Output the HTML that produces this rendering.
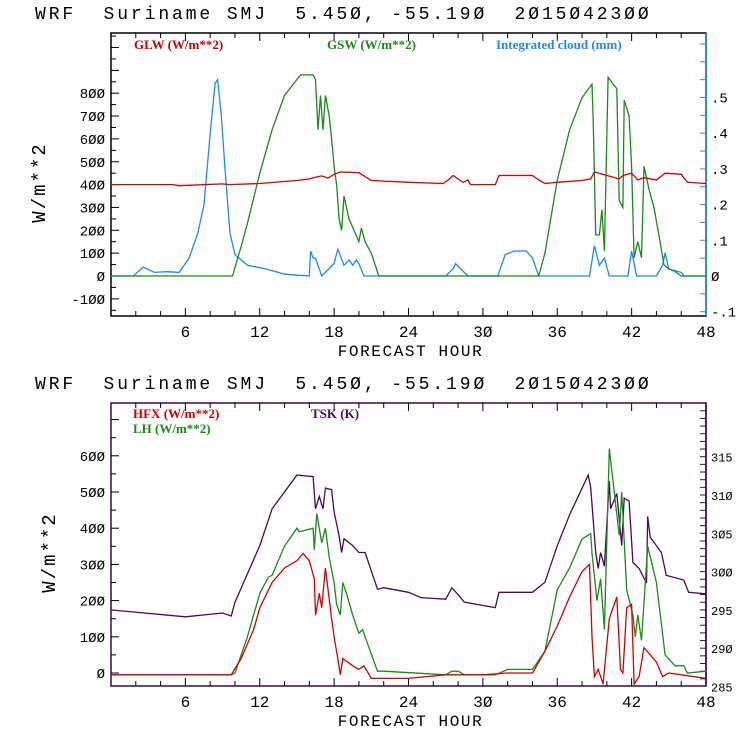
<!DOCTYPE html>
<html><head><meta charset="utf-8"><style>
html,body{margin:0;padding:0;background:#fff;}
svg{display:block;}
text{font-family:"Liberation Mono",monospace;}
text.lg{font-family:"Liberation Serif",serif;font-weight:bold;}
</style></head><body>
<svg id="c" width="740" height="740" viewBox="0 0 740 740"></svg>
<script>
// ---------- DATA: top chart ----------
const glwHours=[0,5,5.5,9,9.5,12,15,16,16.5,17,17.5,18,18.5,20,21,24,26.8,27.2,27.6,28,28.4,28.8,29,31,31.3,34,34.5,35,36,38,38.7,39,41,41.3,42,42.5,43,44,44.7,46,46.5,48];
const glwVals=[400,400,395,403,400,405,418,425,432,438,428,445,455,452,418,410,405,420,440,425,410,420,400,400,440,440,420,405,410,418,425,455,425,440,450,420,430,420,450,445,410,405];
const gswHours=[0,9.8,10.5,11,12,13,14,15,15.3,16.3,16.5,16.7,16.9,17.1,17.3,17.6,17.8,18,18.2,18.4,18.6,18.8,19.2,19.6,20,20.2,20.5,21,21.6,34.5,35,36,37,38,38.8,38.9,39.1,39.4,39.6,39.8,40.1,40.5,40.8,41,41.3,41.4,41.8,42,42.2,42.5,42.8,43,43.4,43.8,44.2,44.6,45,45.5,46,48];
const gswVals=[0,0,130,230,450,640,790,860,880,880,860,640,790,640,790,700,600,480,400,250,200,350,250,200,150,210,150,100,0,0,100,420,640,780,840,680,180,180,290,110,870,840,820,330,300,770,700,480,80,150,80,480,380,300,180,50,30,20,0,0];
const cloudHours=[0,1.8,2.6,3.5,4.5,5.5,6.3,7,7.5,8,8.4,8.6,8.9,9.2,9.6,10,11,12.5,14,16,16.1,16.3,16.5,17,18,18.3,18.8,19.2,19.5,19.8,20,20.4,27,27.6,27.8,28.2,28.8,31.2,31.8,32.5,33.5,34,34.5,38.6,39,39.4,39.8,40.2,41.7,42,42.4,44,44.5,44.7,45,46,46.2,48];
const cloudVals=[0,0,0.025,0.01,0.012,0.01,0.05,0.12,0.2,0.4,0.54,0.55,0.45,0.3,0.12,0.06,0.03,0.02,0.005,0,0.07,0.05,0.05,0,0.035,0.075,0.03,0.045,0.03,0.045,0.035,0,0,0.02,0.035,0.02,0,0,0.06,0.07,0.07,0.05,0,0,0.085,0.03,0.05,0,0,0.07,0,0,0.03,0.065,0.02,0.01,0,0];
// ---------- DATA: bottom chart ----------
const hfxHours=[0,9.7,10.5,11.5,12,13,14,15,15.5,16,16.4,16.5,16.8,17,17.3,17.8,18,18.3,18.5,18.7,19.5,20,20.4,21,22,24,27,28,30,32,34,35,36,37,38,38.6,38.8,39,39.3,39.7,40.2,40.8,41.1,41.3,41.6,42,42.2,42.6,43,44,44.5,45,46,48];
const hfxVals=[-5,-5,40,120,180,250,290,310,330,310,260,160,220,180,290,150,100,40,-5,40,20,10,20,-15,-15,-15,-5,-5,-5,0,0,60,130,210,280,300,100,-10,10,-30,150,210,10,0,180,190,-30,-10,70,30,-10,0,-5,-15];
const lhHours=[0,9.7,10,11,12,12.7,13,14,15,15.2,16.3,16.4,16.6,17,17.3,17.6,18,18.2,18.5,18.7,19,19.5,20,20.3,20.5,21.5,22,27,27.5,28,28.5,31,32,34,35,36,37,38,38.7,38.8,39.2,39.5,39.8,40.2,40.5,41,41.2,41.6,42.1,42.3,42.5,42.8,43.3,44,44.7,45.5,46.2,46.5,48];
const lhVals=[-5,-5,0,100,220,265,270,350,400,390,400,340,440,360,400,320,250,190,160,250,220,160,110,120,100,5,5,-5,5,5,-5,-5,10,10,60,230,290,370,385,330,200,260,120,620,530,380,500,230,160,100,160,90,350,250,50,20,20,0,5];
const tskHours=[0,6,9,9.7,10,12,13,15,16.3,16.5,16.8,17.1,17.3,17.8,18,18.4,18.6,18.8,19.5,20,20.5,21.5,22,24,25,27,27.5,28.2,28.5,31,31.3,34,35,36,37,38.5,38.7,39.1,39.3,39.5,39.8,40.2,40.3,40.8,41.2,41.4,41.8,42.1,42.6,43.2,43.3,43.5,44.4,44.8,46.2,46.6,48];
const tskVals=[295,294.1,294.6,294.2,296,303.4,308.2,312.6,312.4,308.2,309.8,308.2,310.9,310.7,307.8,304.7,302.5,304.3,303.4,302.5,302.5,297.7,297.9,297.3,296.6,296.4,297.9,296.6,296,295.3,297.3,297.3,298.6,303.4,307.4,312.6,311,302.5,300.4,302.5,300.7,311.8,308.2,310.2,303.4,309.6,309.2,301.2,300.4,298.5,307.2,304.5,302.5,299.5,298.9,297.3,297.1];
const xTicks=[6,12,18,24,30,36,42,48];
const topLeftTicks=[-100,0,100,200,300,400,500,600,700,800];
const topRightTicks=[-0.1,0,0.1,0.2,0.3,0.4,0.5];
const botLeftTicks=[0,100,200,300,400,500,600];
const botRightTicks=[285,290,295,300,305,310,315];

const NS='http://www.w3.org/2000/svg';
const svg=document.getElementById('c');
function el(tag,attrs,parent){const e=document.createElementNS(NS,tag);for(const k in attrs)e.setAttribute(k,attrs[k]);(parent||svg).appendChild(e);return e;}
function txt(s,attrs,parent){const t=el('text',attrs,parent);t.textContent=s;return t;}

function makeChart(cfg){
  const g=el('g',{});
  
  
  const L=111,R=706,T=cfg.top,B=cfg.bottom;
  const xs=h=>L+(R-L)*h/48;
  const yl=v=>cfg.y0L+(v-cfg.v0L)*cfg.kL;
  const yr=v=>cfg.y0R+(v-cfg.v0R)*cfg.kR;
  const t=txt('WRF  Suriname SMJ  5.45Ø, -55.19Ø  2Ø15Ø423ØØ',{x:35,y:cfg.top-14,'font-size':18,fill:'#000','letter-spacing':'2.9',style:'white-space:pre'},g);
  
  
  const bx=el('rect',{x:L,y:T,width:R-L,height:B-T,fill:'none',stroke:cfg.boxColor,'stroke-width':1.5},g);
  
  
  el('line',{x1:R,y1:T,x2:R,y2:B,stroke:cfg.rightColor,'stroke-width':1.5},g);
  for(let h=2;h<48;h+=2){const big=h%6===0;el('line',{x1:xs(h),y1:B,x2:xs(h),y2:B-(big?8:5),stroke:'#000'},g);el('line',{x1:xs(h),y1:T,x2:xs(h),y2:T+(big?8:5),stroke:'#000'},g);}
  xTicks.forEach(h=>{const l=txt(String(h).replace(/0/g,'Ø'),{x:xs(h),y:B+21,'font-size':16,'text-anchor':'middle',fill:'#000'},g);
    
    });
  const xt=txt('FORECAST HOUR',{x:(L+R)/2+2,y:B+40,'font-size':16,'text-anchor':'middle',fill:'#000','letter-spacing':'1.6'},g);
  
  
  for(let v=cfg.minorL0;yl(v)>=T;v+=cfg.minorL){const y=yl(v);if(y>B)continue;const big=(v%cfg.majorL)===0;el('line',{x1:L,y1:y,x2:L+(big?8:5),y2:y,stroke:'#000'},g);}
  cfg.leftTicks.forEach(v=>{const l=txt(String(v).replace(/0/g,'Ø'),{x:L-6,y:yl(v)+5,'font-size':14,'text-anchor':'end',fill:'#000'},g);
    
    });
  const yt=txt('W/m**2',{x:0,y:0,'font-size':19,'text-anchor':'middle',fill:'#000','letter-spacing':'2',transform:`translate(${cfg.ytX},${(T+B)/2+8}) rotate(-90)`},g);
  
  
  for(let i=0;;i++){const v=cfg.minorR0+i*cfg.minorR;const y=yr(v);if(y<T)break;if(y>B)continue;el('line',{x1:R,y1:y,x2:R-6,y2:y,stroke:cfg.rightColor},g);}
  cfg.rightTicks.forEach(v=>{const s=cfg.rightFmt(v);const l=txt(s,{x:R+5,y:yr(v)+5,'font-size':cfg.rightFs,fill:'#000'},g);
    
    });
  cfg.series.forEach(s=>{
    const pts=s.h.map((h,i)=>xs(h).toFixed(1)+','+(s.axis==='R'?yr(s.v[i]):yl(s.v[i])).toFixed(1)).join(' ');
    const p=el('polyline',{points:pts,fill:'none',stroke:s.color,'stroke-width':1.3},g);
    
    
  });
  cfg.legend.forEach(lg=>{const l=txt(lg.t,{x:lg.x,y:lg.y,'font-size':13,fill:lg.c,'class':'lg'},g);
    
    });
}
makeChart({name:'radiation-chart',top:33,bottom:316,boxColor:'#000',rightColor:'#1e88ff',
  y0L:276,v0L:0,kL:-0.2285,minorL0:-150,minorL:50,majorL:100,leftTicks:topLeftTicks,ytX:45,
  y0R:276,v0R:0,kR:-357,minorR0:-0.1,minorR:0.05,rightTicks:topRightTicks,rightFs:14,
  rightFmt:v=>v===0?'Ø':(v<0?'-.'+String(Math.round(-v*10)):'.'+String(Math.round(v*10))),
  series:[{name:'cloud-line',h:cloudHours,v:cloudVals,color:'#1e88ff',axis:'R'},
          {name:'gsw-line',h:gswHours,v:gswVals,color:'#1a8a1a',axis:'L'},
          {name:'glw-line',h:glwHours,v:glwVals,color:'#d40000',axis:'L'}],
  legend:[{t:'GLW (W/m**2)',x:134,y:49,c:'#d40000'},{t:'GSW (W/m**2)',x:327,y:49,c:'#1a8a1a'},{t:'Integrated cloud (mm)',x:496,y:49,c:'#1e88ff'}]});
makeChart({name:'surface-flux-chart',top:403,bottom:686,boxColor:'#3a0a4a',rightColor:'#3a0a4a',
  y0L:673,v0L:0,kL:-0.362,minorL0:-50,minorL:50,majorL:100,leftTicks:botLeftTicks,ytX:55,
  y0R:686.5,v0R:285,kR:-7.66,minorR0:285,minorR:1,rightTicks:botRightTicks,rightFs:12,
  rightFmt:v=>String(v).replace(/0/g,'Ø'),
  series:[{name:'tsk-line',h:tskHours,v:tskVals,color:'#4a0a5a',axis:'R'},
          {name:'lh-line',h:lhHours,v:lhVals,color:'#1a8a1a',axis:'L'},
          {name:'hfx-line',h:hfxHours,v:hfxVals,color:'#d40000',axis:'L'}],
  legend:[{t:'HFX (W/m**2)',x:133,y:418,c:'#d40000'},{t:'LH  (W/m**2)',x:133,y:433,c:'#1a8a1a'},{t:'TSK (K)',x:311,y:418,c:'#4a0a5a'}]});
</script>
</body></html>
